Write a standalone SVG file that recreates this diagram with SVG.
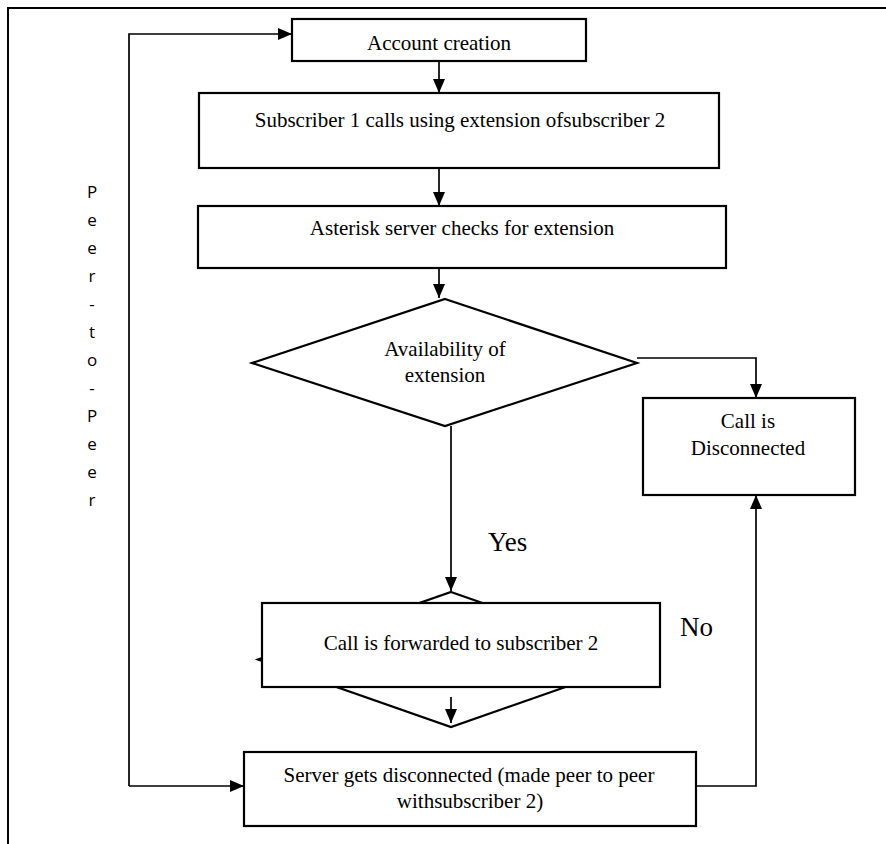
<svg xmlns="http://www.w3.org/2000/svg" width="886" height="844" viewBox="0 0 886 844">
<style>
.box{fill:#fff;stroke:#000;stroke-width:2.2}
.t{font-family:'Liberation Serif','DejaVu Serif','Noto Serif',serif;font-size:21px;fill:#000;text-anchor:middle}
.lbl{font-family:'Liberation Serif','DejaVu Serif','Noto Serif',serif;font-size:27px;fill:#000}
.side{font-family:'Open Sans','Liberation Sans',sans-serif;font-size:17px;fill:#000;text-anchor:middle}
.c{fill:none;stroke:#000;stroke-width:1.7}
</style>
<defs>
<marker id="ah" viewBox="0 0 14 12" refX="14" refY="6" markerWidth="14" markerHeight="12" markerUnits="userSpaceOnUse" orient="auto">
<path d="M0,0 L14,6 L0,12 z" fill="#000"/>
</marker>
</defs>
<rect width="886" height="844" fill="#fff"/>
<path d="M8,844 V8 H886" fill="none" stroke="#000" stroke-width="2"/>

<g id="peer-label">
<text class="side" x="92" y="198">P</text>
<text class="side" x="92" y="226">e</text>
<text class="side" x="92" y="254">e</text>
<text class="side" x="92" y="282">r</text>
<text class="side" x="92" y="310">-</text>
<text class="side" x="92" y="338">t</text>
<text class="side" x="92" y="366">o</text>
<text class="side" x="92" y="394">-</text>
<text class="side" x="92" y="422">P</text>
<text class="side" x="92" y="450">e</text>
<text class="side" x="92" y="478">e</text>
<text class="side" x="92" y="506">r</text>
</g>

<g id="connectors">
<path class="c" d="M439,61 V93" marker-end="url(#ah)"/>
<path class="c" d="M439,168 V206" marker-end="url(#ah)"/>
<path class="c" d="M439,268 V298" marker-end="url(#ah)"/>
<path class="c" d="M637,358 H756 V398" marker-end="url(#ah)"/>
<path class="c" d="M451,426 V591" marker-end="url(#ah)"/>
<path class="c" d="M129,786 H244" marker-end="url(#ah)"/>
<path class="c" d="M129,786 V34 H292" marker-end="url(#ah)"/>
<path class="c" d="M696,786 H756 V495" marker-end="url(#ah)"/>
</g>

<g id="account-creation">
<rect class="box" x="292" y="19" width="294" height="42"/>
<text class="t" x="439" y="50">Account creation</text>
</g>

<g id="subscriber-calls">
<rect class="box" x="199" y="93" width="520" height="75"/>
<text class="t" x="460" y="127">Subscriber 1 calls using extension ofsubscriber 2</text>
</g>

<g id="asterisk-checks">
<rect class="box" x="198" y="206" width="528" height="62"/>
<text class="t" x="462" y="235">Asterisk server checks for extension</text>
</g>

<g id="availability">
<polygon class="box" points="445,299 637,363 445,426 252,363"/>
<text class="t" x="445" y="356">Availability of</text>
<text class="t" x="445" y="382">extension</text>
</g>

<g id="call-disconnected">
<rect class="box" x="643" y="398" width="212" height="97"/>
<text class="t" x="748" y="428">Call is</text>
<text class="t" x="748" y="455">Disconnected</text>
</g>

<g id="call-forwarded">
<polygon class="box" points="451,592 644,659.5 451,727 258,659.5"/>
<rect class="box" x="262" y="603" width="398" height="84"/>
<text class="t" x="461" y="650">Call is forwarded to subscriber 2</text>
<path class="c" d="M451,697 V723" marker-end="url(#ah)"/>
</g>

<g id="server-disconnected">
<rect class="box" x="244" y="752" width="452" height="74"/>
<text class="t" x="469" y="782">Server gets disconnected (made peer to peer</text>
<text class="t" x="470" y="808">withsubscriber 2)</text>
</g>

<g id="labels">
<text class="lbl" x="488" y="551">Yes</text>
<text class="lbl" x="680" y="636">No</text>
</g>
</svg>
